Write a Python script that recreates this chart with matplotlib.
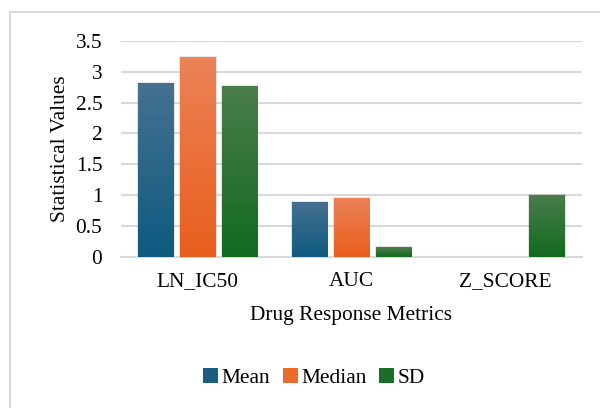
import numpy as np
import matplotlib.pyplot as plt
from matplotlib.colors import LinearSegmentedColormap
from matplotlib.patches import Rectangle, Patch

metrics = ["LN_IC50", "AUC", "Z_SCORE"]
series = ["Mean", "Median", "SD"]
mean_vals = [2.82, 0.89, 0.0]
median_vals = [3.24, 0.95, 0.0]
sd_vals = [2.77, 0.16, 1.00]

# top (light) -> bottom (dark) gradient colours for each series
grad = {
    "Mean": ("#44718f", "#0f5a80"),
    "Median": ("#ec8257", "#e85f1d"),
    "SD": ("#4a7d4c", "#126a1f"),
}
solid = {"Mean": "#1a5d80", "Median": "#eb6b2c", "SD": "#1b6e26"}

plt.rcParams["font.family"] = ["Liberation Serif", "DejaVu Serif"]
FS = 15.4

fig = plt.figure(figsize=(6, 4.08), dpi=100)
ax = fig.add_axes([0.2017, 0.3708, 0.7678, 0.5287])

# outer chart border (only left/top visible in the original)
fig.patches.append(Rectangle((10 / 600, -0.1), 1.2, 1 - 12 / 408 + 0.1,
                             transform=fig.transFigure, fill=False,
                             edgecolor="#d9d9d9", linewidth=1.5, zorder=0))

x = np.arange(len(metrics))
width = 0.228
step = 0.273
values = [mean_vals, median_vals, sd_vals]

for i, (name, vals) in enumerate(zip(series, values)):
    cmap = LinearSegmentedColormap.from_list(name, [grad[name][1], grad[name][0]])
    for xi, v in zip(x + (i - 1) * step, vals):
        if v <= 0:
            continue
        left = xi - width / 2
        # soft shadow
        ax.add_patch(Rectangle((left - 0.008, -0.02), width + 0.016, v + 0.035,
                               facecolor="#000000", alpha=0.10, edgecolor="none",
                               zorder=2))
        bar = Rectangle((left, 0), width, v, facecolor="none", edgecolor="none")
        ax.add_patch(bar)
        g = np.linspace(0, 1, 100).reshape(-1, 1)
        im = ax.imshow(g, cmap=cmap, origin="lower", aspect="auto",
                       extent=(left, left + width, 0, v), zorder=3)
        im.set_clip_path(bar)

ax.set_xlim(-0.5, 2.5)
ax.set_ylim(0, 3.5)
ax.set_yticks(np.arange(0, 3.51, 0.5))
ax.set_yticklabels(["0", "0.5", "1", "1.5", "2", "2.5", "3", "3.5"])
ax.set_xticks(x)
ax.set_xticklabels(metrics)
ax.tick_params(axis="both", length=0, labelsize=FS, colors="#000000")
ax.tick_params(axis="x", pad=11)
ax.tick_params(axis="y", pad=13.5)
ax.grid(axis="y", color="#d9d9d9", linewidth=1.5)
ax.set_axisbelow(True)
for s in ["top", "right", "left"]:
    ax.spines[s].set_visible(False)
ax.spines["bottom"].set_color("#d9d9d9")
ax.spines["bottom"].set_linewidth(1.5)

ax.set_ylabel("Statistical Values", fontsize=FS, labelpad=4)
ax.set_xlabel("Drug Response Metrics", fontsize=FS, labelpad=11)

handles = [Patch(facecolor=solid[n], edgecolor="none") for n in series]
fig.legend(handles, series, loc="center", bbox_to_anchor=(314 / 600, 1 - 378 / 408),
           ncol=3, frameon=False, fontsize=FS, handlelength=0.7,
           handleheight=0.7, handletextpad=0.15, columnspacing=0.6)

fig.savefig("out.png", dpi=100)
